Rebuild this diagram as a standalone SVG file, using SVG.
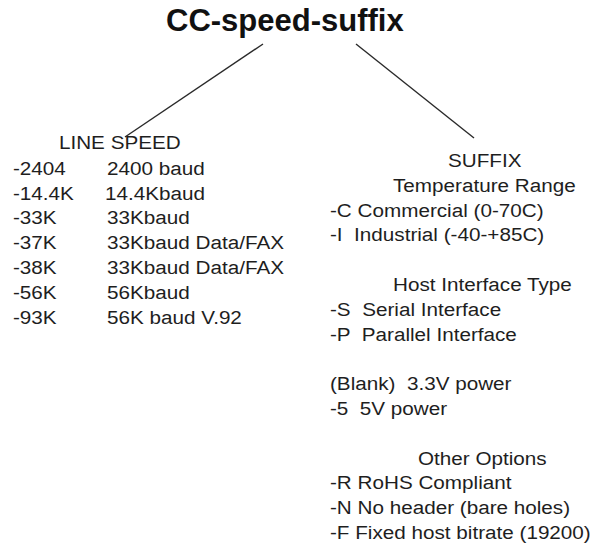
<svg xmlns="http://www.w3.org/2000/svg" width="596" height="551" viewBox="0 0 596 551">
<style>
  text { font-family: "Liberation Sans", Arial, sans-serif; font-size: 18.8px; fill: #1e1e1e; white-space: pre; }
  .title { font-size: 31px; font-weight: bold; fill: #111; }
  .conn { stroke: #2a2a2a; stroke-width: 1.4; fill: none; }
</style>
<rect width="596" height="551" fill="#ffffff"/>
<g id="connectors">
  <line class="conn" x1="263" y1="44" x2="125" y2="137"/>
  <line class="conn" x1="356" y1="44" x2="474" y2="138"/>
</g>
<g id="title">
  <text class="title" x="166" y="31">CC-speed-suffix</text>
</g>
<g id="line-speed" transform="scale(1.1 1)">
  <text x="53.6" y="149">LINE SPEED</text>
  <text x="11.8" y="175">-2404</text><text x="97.3" y="175">2400 baud</text>
  <text x="11.8" y="200">-14.4K</text><text x="95.5" y="200">14.4Kbaud</text>
  <text x="11.8" y="224.5">-33K</text><text x="97.3" y="224.5">33Kbaud</text>
  <text x="11.8" y="249">-37K</text><text x="97.3" y="249">33Kbaud Data/FAX</text>
  <text x="11.8" y="274">-38K</text><text x="97.3" y="274">33Kbaud Data/FAX</text>
  <text x="11.8" y="299">-56K</text><text x="97.3" y="299">56Kbaud</text>
  <text x="11.8" y="324">-93K</text><text x="97.3" y="324">56K baud V.92</text>
</g>
<g id="suffix" transform="scale(1.1 1)">
  <text x="407.3" y="167">SUFFIX</text>
  <text x="357.3" y="192">Temperature Range</text>
  <text x="300" y="217">-C Commercial (0-70C)</text>
  <text x="300" y="241">-I  Industrial (-40-+85C)</text>
  <text x="357.3" y="291">Host Interface Type</text>
  <text x="300" y="316">-S  Serial Interface</text>
  <text x="300" y="341">-P  Parallel Interface</text>
  <text x="300" y="390">(Blank)  3.3V power</text>
  <text x="300" y="415">-5  5V power</text>
  <text x="380" y="465">Other Options</text>
  <text x="300" y="489">-R RoHS Compliant</text>
  <text x="300" y="514">-N No header (bare holes)</text>
  <text x="300" y="539">-F Fixed host bitrate (19200)</text>
</g>
</svg>
